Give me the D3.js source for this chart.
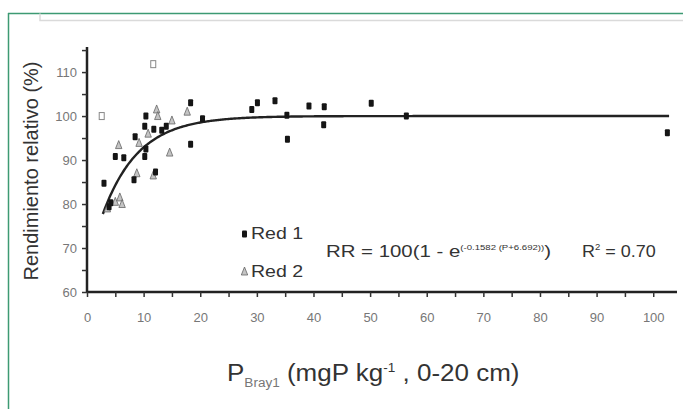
<!DOCTYPE html>
<html><head><meta charset="utf-8">
<script src="https://cdn.jsdelivr.net/npm/d3@7"></script>
<style>
html,body{margin:0;padding:0;background:#fff;}
svg{display:block;}
</style></head>
<body>
<svg id="chart" width="683" height="409"></svg>
<script>
// ---- data ----
const red1X = [3.0, 3.9, 4.2, 5.0, 6.5, 8.3, 8.5, 10.2, 10.4, 10.2, 10.4, 11.8, 12.1, 13.2, 14.0, 18.3, 18.3, 20.4, 29.1, 30.1, 33.2, 35.3, 35.4, 39.2, 41.9, 41.8, 50.2, 56.4, 102.5];
const red1Y = [84.7, 79.4, 80.3, 90.8, 90.5, 85.5, 95.3, 90.8, 92.5, 97.7, 100.0, 97.0, 87.3, 96.8, 97.7, 103.0, 93.6, 99.4, 101.5, 103.0, 103.5, 100.2, 94.7, 102.3, 102.1, 98.0, 102.9, 100.0, 96.2];
const red2X = [3.6, 5.0, 5.8, 6.2, 5.6, 9.2, 8.8, 11.7, 12.3, 12.5, 14.6, 15.0, 17.7, 10.8];
const red2Y = [79.0, 80.5, 81.5, 80.0, 93.4, 93.9, 87.0, 86.5, 101.5, 100.0, 91.7, 99.0, 101.0, 96.0];
const outlierX = [2.6, 11.7];
const outlierY = [100.0, 111.8];
const xTicks = [0, 10, 20, 30, 40, 50, 60, 70, 80, 90, 100];
const yTicks = [60, 70, 80, 90, 100, 110];
const fitA = 0.1582, fitB = 6.692, fitStart = 2.8, fitEnd = 102.8;

// ---- drawing ----
const svg = d3.select("#chart");
const x = d3.scaleLinear().domain([0, 104.2]).range([87, 677]);
const y = d3.scaleLinear().domain([60, 115.7]).range([292, 47]);

// frame
svg.append("line").attr("x1", 8).attr("x2", 683).attr("y1", 13.5).attr("y2", 13.5)
  .attr("stroke", "#3d9a73").attr("stroke-width", 1.5);
svg.append("line").attr("x1", 8.5).attr("x2", 8.5).attr("y1", 13).attr("y2", 409)
  .attr("stroke", "#3d9a73").attr("stroke-width", 1.5);
svg.append("path").attr("d", "M40,13.5V20.5H683").attr("fill", "none")
  .attr("stroke", "#dadada").attr("stroke-width", 1.5);

const tickFont = "'Liberation Sans Narrow','Arial Narrow',sans-serif";

// x axis
const xAxis = d3.axisBottom(x).tickValues(d3.range(0, 105, 5)).tickSize(5)
  .tickFormat(d => xTicks.includes(d) ? d : "");
const gx = svg.append("g").attr("transform", "translate(0,292)").call(xAxis);
gx.select(".domain").attr("stroke", "#222").attr("stroke-width", 2.5).attr("d", "M87,0H677");
gx.selectAll(".tick line").attr("stroke", "#333").attr("stroke-width", 1.5);
gx.selectAll(".tick text").attr("font-family", tickFont).attr("font-size", 13)
  .attr("fill", "#777").attr("y", 21).attr("dy", "0.71em");

// y axis
const yAxis = d3.axisLeft(y).tickValues(d3.range(60, 116, 5)).tickSize(5)
  .tickFormat(d => yTicks.includes(d) ? d : "");
const gy = svg.append("g").attr("transform", "translate(87,0)").call(yAxis);
gy.select(".domain").attr("stroke", "#222").attr("stroke-width", 2.5).attr("d", "M0,47V292");
gy.selectAll(".tick line").attr("stroke", "#333").attr("stroke-width", 1.5);
gy.selectAll(".tick text").attr("font-family", tickFont).attr("font-size", 13)
  .attr("fill", "#777").attr("x", -10);

// fit curve
const curveData = d3.range(fitStart, fitEnd + 0.01, 0.2).map(p => [p, 100 * (1 - Math.exp(-fitA * (p + fitB)))]);
svg.append("path").datum(curveData)
  .attr("d", d3.line().x(d => x(d[0])).y(d => y(d[1])))
  .attr("fill", "none").attr("stroke", "#222").attr("stroke-width", 2.4);

// triangles (Red 2)
const tri = (cx, cy) => `M${cx},${cy - 4.5}L${cx + 3.2},${cy + 3.5}L${cx - 3.2},${cy + 3.5}Z`;
svg.append("g").selectAll("path").data(red2X.map((v, i) => [v, red2Y[i]])).join("path")
  .attr("d", d => tri(x(d[0]), y(d[1])))
  .attr("fill", "#c4c4c4").attr("stroke", "#666").attr("stroke-width", 0.8);

// squares (Red 1)
svg.append("g").selectAll("rect").data(red1X.map((v, i) => [v, red1Y[i]])).join("rect")
  .attr("x", d => x(d[0]) - 2.5).attr("y", d => y(d[1]) - 3.5)
  .attr("width", 5).attr("height", 7).attr("rx", 1).attr("fill", "#151515");

// open squares
svg.append("g").selectAll("rect").data(outlierX.map((v, i) => [v, outlierY[i]])).join("rect")
  .attr("x", d => x(d[0]) - 2.5).attr("y", d => y(d[1]) - 3.5)
  .attr("width", 5).attr("height", 7).attr("fill", "#fff")
  .attr("stroke", "#888").attr("stroke-width", 1);

// legend
const lf = "'Liberation Sans',Arial,sans-serif";
svg.append("rect").attr("x", 242).attr("y", 230.5).attr("width", 5).attr("height", 7).attr("rx", 1).attr("fill", "#151515");
svg.append("text").attr("transform", "translate(251,238.5) scale(1.15,1)").attr("font-family", lf).attr("font-size", 17)
  .attr("fill", "#333").text("Red 1");
svg.append("path").attr("d", tri(244.5, 271.5)).attr("fill", "#c4c4c4").attr("stroke", "#666").attr("stroke-width", 0.8);
svg.append("text").attr("transform", "translate(251,277) scale(1.15,1)").attr("font-family", lf).attr("font-size", 17)
  .attr("fill", "#333").text("Red 2");

// equation
const eq = svg.append("text").attr("transform", "translate(326,257) scale(1.2,1)").attr("font-family", lf)
  .attr("font-size", 17).attr("fill", "#333");
eq.append("tspan").text("RR = 100(1 - e");
eq.append("tspan").attr("font-size", 8).attr("dy", -7).text("(-0.1582 (P+6.692))");
eq.append("tspan").attr("dy", 7).text(")");
const r2 = svg.append("text").attr("transform", "translate(582,257) scale(1.06,1)").attr("font-family", lf)
  .attr("font-size", 17).attr("fill", "#333");
r2.append("tspan").text("R");
r2.append("tspan").attr("font-size", 9).attr("dy", -7).text("2");
r2.append("tspan").attr("dy", 7).text(" = 0.70");

// axis titles
svg.append("text").attr("transform", "translate(38,171) rotate(-90)").attr("text-anchor", "middle")
  .attr("font-family", lf).attr("font-size", 20).attr("fill", "#333").text("Rendimiento relativo (%)");
const xt = svg.append("text").attr("transform", "translate(227,381) scale(1.13,1)").attr("font-family", lf)
  .attr("font-size", 23).attr("fill", "#333");
xt.append("tspan").text("P");
xt.append("tspan").attr("font-size", 12).attr("dy", 6).attr("fill", "#777").text("Bray1");
xt.append("tspan").attr("dy", -6).text(" (mgP kg");
xt.append("tspan").attr("font-size", 12).attr("dy", -9).text("-1");
xt.append("tspan").attr("dy", 9).text(" , 0-20 cm)");
</script>
</body></html>
